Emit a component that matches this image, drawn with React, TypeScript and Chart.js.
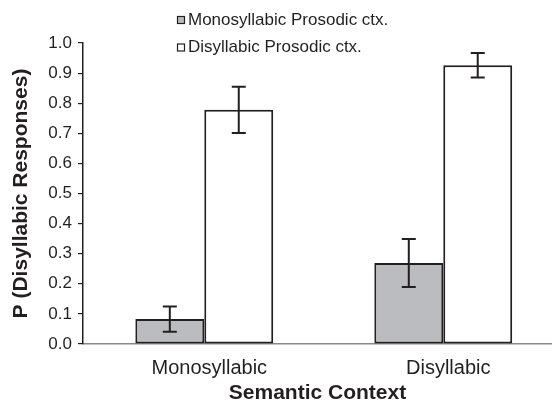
import React, { useEffect, useRef } from 'react';
import { Chart, registerables } from 'chart.js';

Chart.register(...registerables);

const categories = ['Monosyllabic', 'Disyllabic'];
const seriesLabels = ['Monosyllabic Prosodic ctx.', 'Disyllabic Prosodic ctx.'];
const monoProsodic = [0.083, 0.269];
const monoProsodicErr = [0.042, 0.08];
const diProsodic = [0.778, 0.926];
const diProsodicErr = [0.077, 0.041];
const yTickValues = [0, 0.1, 0.2, 0.3, 0.4, 0.5, 0.6, 0.7, 0.8, 0.9, 1.0];

const FONT = "'Liberation Sans', Arial, Helvetica, sans-serif";
const INK = '#231f20';
const GREY = '#bbbcbf';

const errorBarPlugin = {
  id: 'errorBars',
  afterDatasetsDraw(chart: any) {
    const ctx = chart.ctx;
    const yScale = chart.scales.y;
    chart.data.datasets.forEach((ds: any, di: number) => {
      const meta = chart.getDatasetMeta(di);
      meta.data.forEach((bar: any, i: number) => {
        const v = ds.data[i].y;
        const e = ds.errors[i];
        const x = bar.x;
        const top = yScale.getPixelForValue(v + e);
        const bot = yScale.getPixelForValue(v - e);
        ctx.save();
        ctx.strokeStyle = INK;
        ctx.lineWidth = 2;
        ctx.beginPath();
        ctx.moveTo(x, top);
        ctx.lineTo(x, bot);
        ctx.moveTo(x - 7, top);
        ctx.lineTo(x + 7, top);
        ctx.moveTo(x - 7, bot);
        ctx.lineTo(x + 7, bot);
        ctx.stroke();
        ctx.restore();
      });
    });
  },
};

const legendPlugin = {
  id: 'customLegend',
  afterDraw(chart: any) {
    const ctx = chart.ctx;
    const rows = [20, 47.5];
    chart.data.datasets.forEach((ds: any, di: number) => {
      const cy = rows[di];
      ctx.save();
      ctx.fillStyle = ds.backgroundColor;
      ctx.fillRect(177.5, cy - 3.5, 7, 7);
      ctx.strokeStyle = INK;
      ctx.lineWidth = 1.2;
      ctx.strokeRect(177.5, cy - 3.5, 7, 7);
      ctx.fillStyle = INK;
      ctx.font = `17px ${FONT}`;
      ctx.textBaseline = 'middle';
      ctx.textAlign = 'left';
      ctx.fillText(ds.label, 188, cy);
      ctx.restore();
    });
  },
};

export default function App() {
  const ref = useRef<HTMLCanvasElement | null>(null);

  useEffect(() => {
    if (!ref.current) return;
    const chart = new Chart(ref.current, {
      type: 'bar',
      data: {
        datasets: [
          {
            label: seriesLabels[0],
            data: categories.map((_, i) => ({ x: i, y: monoProsodic[i] })),
            errors: monoProsodicErr,
            backgroundColor: GREY,
            borderColor: INK,
            borderWidth: 2,
            borderSkipped: false,
          } as any,
          {
            label: seriesLabels[1],
            data: categories.map((_, i) => ({ x: i, y: diProsodic[i] })),
            errors: diProsodicErr,
            backgroundColor: '#ffffff',
            borderColor: INK,
            borderWidth: 2,
            borderSkipped: false,
          } as any,
        ],
      },
      options: {
        responsive: false,
        animation: false,
        layout: { padding: { top: 43, left: 0, right: 0, bottom: 0 } },
        datasets: { bar: { barPercentage: 1, categoryPercentage: 0.577 } },
        plugins: { legend: { display: false }, tooltip: { enabled: false } },
        scales: {
          x: {
            type: 'linear',
            offset: false,
            min: -0.5075,
            max: 1.455,
            afterBuildTicks: (scale: any) => {
              scale.ticks = categories.map((_, i) => ({ value: i }));
            },
            afterFit: (scale: any) => {
              scale.height = 60;
            },
            grid: { display: false, drawTicks: false, offset: false },
            border: { display: true, color: '#8a8a8a', width: 1.5 },
            ticks: {
              autoSkip: false,
              maxRotation: 0,
              padding: 12,
              labelOffset: 5,
              color: INK,
              font: { family: FONT, size: 20 },
              callback: (v: any) => categories[Math.round(Number(v))] ?? '',
            },
            title: {
              display: true,
              text: 'Semantic Context',
              color: INK,
              font: { family: FONT, size: 21, weight: 'bold', lineHeight: 1.0 },
              padding: { top: 0, bottom: 0 },
            },
          },
          y: {
            type: 'linear',
            min: 0,
            max: 1,
            afterBuildTicks: (scale: any) => {
              scale.ticks = yTickValues.map((v) => ({ value: v }));
            },
            afterFit: (scale: any) => {
              scale.width = 83;
            },
            grid: {
              display: true,
              drawOnChartArea: false,
              drawTicks: true,
              tickLength: 5,
              color: INK,
              lineWidth: 1.2,
            },
            border: { display: true, color: INK, width: 1.5 },
            ticks: {
              padding: 6,
              color: INK,
              font: { family: FONT, size: 17 },
              callback: (v: any) => Number(v).toFixed(1),
            },
            title: {
              display: true,
              text: 'P (Disyllabic Responses)',
              color: INK,
              font: { family: FONT, size: 21, weight: 'bold' },
              padding: { top: 9, bottom: 0 },
            },
          },
        },
      } as any,
      plugins: [errorBarPlugin, legendPlugin],
    });
    return () => chart.destroy();
  }, []);

  return (
    <div style={{ position: 'fixed', left: 0, top: 0, width: 552, height: 404, background: '#fff' }}>
      <canvas ref={ref} width={552} height={404} style={{ display: 'block' }} />
    </div>
  );
}
